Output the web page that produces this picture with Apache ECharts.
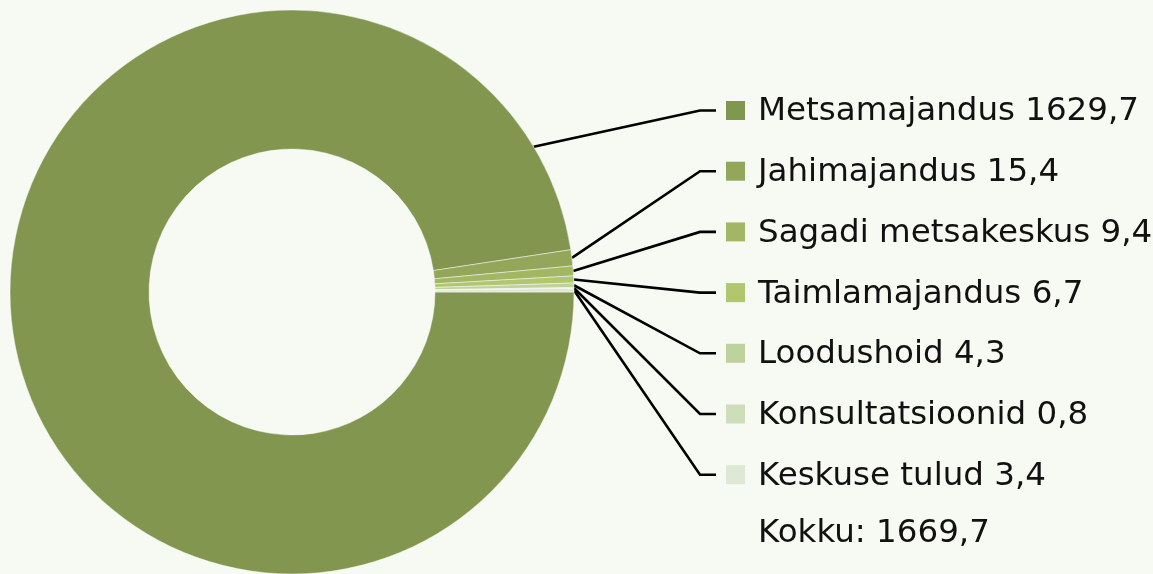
<!DOCTYPE html>
<html>
<head>
<meta charset="utf-8">
<script src="https://cdn.jsdelivr.net/npm/echarts@6/dist/echarts.min.js"></script>
<style>
  html, body { margin: 0; padding: 0; background: #f7f9f3; }
  #chart { width: 1153px; height: 574px; }
</style>
</head>
<body>
<div id="chart"></div>
<script>
const categories = ['Metsamajandus', 'Jahimajandus', 'Sagadi metsakeskus', 'Taimlamajandus', 'Loodushoid', 'Konsultatsioonid', 'Keskuse tulud'];
const values = [1629.7, 15.4, 9.4, 6.7, 4.3, 0.8, 3.4];
const colors = ['#83964f', '#93a75a', '#a2b763', '#b0c66f', '#bfd29e', '#cfddba', '#dfe8d4'];
const totalLabel = 'Kokku:';

// layout constants
const FONT = 'DejaVu Sans';
const cx = 292, cy = 292, rInner = 143, rOuter = 282;
const rowTop = 110.5, rowGap = 60.7;
const labelX = 726, elbowX = 700, lineEndX = 716;
const bigAnchorAngle = 31; // degrees, where the first slice's connector leaves the ring

const fmt = v => v.toFixed(1).replace('.', ',');
const total = values.reduce((a, b) => a + b, 0);

const rich = { t: { fontFamily: FONT, fontSize: 32.5, color: '#111', padding: [3, 0, 0, 13] } };
colors.forEach((c, i) => { rich['sq' + i] = { width: 19, height: 19, backgroundColor: c }; });

const chart = echarts.init(document.getElementById('chart'));
chart.setOption({
  backgroundColor: '#f7f9f3',
  animation: false,
  color: colors,
  series: [{
    type: 'pie',
    center: [cx, cy],
    radius: [rInner, rOuter],
    startAngle: 0,
    clockwise: true,
    avoidLabelOverlap: false,
    itemStyle: { borderColor: 'rgba(255,255,255,0.45)', borderWidth: 1 },
    label: {
      show: true,
      position: 'outside',
      formatter: p => `{sq${p.dataIndex}|}{t|${p.name} ${fmt(p.value)}}`,
      rich: rich
    },
    labelLine: { show: true, length: 10, length2: 10, lineStyle: { color: '#000', width: 2.6 } },
    labelLayout: function (p) {
      const i = p.dataIndex;
      const y = rowTop + i * rowGap;
      let a = p.labelLinePoints ? p.labelLinePoints[0] : [cx + rOuter, cy];
      if (i === 0) {
        const ang = bigAnchorAngle * Math.PI / 180;
        a = [cx + rOuter * Math.cos(ang), cy - rOuter * Math.sin(ang)];
      }
      return {
        x: labelX, y: y, align: 'left', verticalAlign: 'middle',
        labelLinePoints: [[a[0], a[1]], [elbowX, y], [lineEndX, y]]
      };
    },
    emphasis: { disabled: true },
    data: categories.map((name, i) => ({ name: name, value: values[i] }))
  }],
  graphic: [{
    type: 'text',
    x: 758,
    y: rowTop + 7 * rowGap - 2,
    style: {
      text: totalLabel + ' ' + fmt(total),
      font: '32.5px "DejaVu Sans"',
      fill: '#111',
      verticalAlign: 'middle'
    }
  }]
});
</script>
</body>
</html>
